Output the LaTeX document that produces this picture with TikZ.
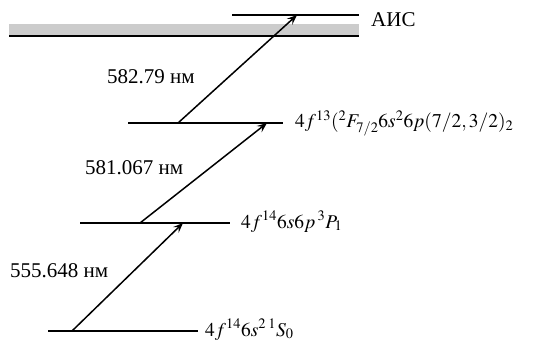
\documentclass[tikz,border=0pt]{standalone}
\usepackage{mathptmx}
\usepackage{fontspec}
\setmainfont{Liberation Serif}
\usepackage{tikz}
\usetikzlibrary{arrows.meta, positioning}
\definecolor{bandgray}{RGB}{204, 204, 204}

\begin{document}
\begin{tikzpicture}[
  x=1pt, y=-1pt,
  lev/.style={line width=2pt},
  trans/.style={line width=1.5pt, -{Stealth[length=10pt, width=8pt, inset=4pt]}},
  lbl/.style={inner sep=0pt, font=\fontsize{21}{24}\selectfont},
  term/.style={inner sep=0pt, font=\fontsize{19.5}{23}\selectfont}
]
  \useasboundingbox (0,0) rectangle (538,342);

  % Autoionizing band
  \fill[bandgray] (9,24) rectangle (359,36);
  \draw[lev] (9,36) -- (359,36);

  % Levels
  \coordinate (gL) at (48,331);  \coordinate (gR) at (198,331);
  \coordinate (pL) at (80,223);  \coordinate (pR) at (230,223);
  \coordinate (fL) at (128,123); \coordinate (fR) at (283,123);
  \coordinate (aL) at (232,15);  \coordinate (aR) at (359,15);
  \draw[lev] (gL) -- (gR);
  \draw[lev] (pL) -- (pR);
  \draw[lev] (fL) -- (fR);
  \draw[lev] (aL) -- (aR);

  % Level labels
  \node[term, anchor=base west] (gs) at (205,336) {$4f^{14}6s^{2}\,{}^{1}S_{0}$};
  \node[term, anchor=base west] (p1) at (241,228) {$4f^{14}6s6p\,{}^{3}P_{1}$};
  \node[term, anchor=base west] (f13) at (295,128) {$4f^{13}({}^{2}F_{7/2}6s^{2}6p(7/2,3/2)_{2}$};
  \node[lbl, anchor=base west] (ais) at (371,27) {АИС};

  % Transitions
  \coordinate (t1a) at (72,331);  \coordinate (t1b) at (183,223);
  \coordinate (t2a) at (140,223); \coordinate (t2b) at (267,123);
  \coordinate (t3a) at (178,123); \coordinate (t3b) at (297,15);
  \draw[trans] (t1a) -- (t1b);
  \draw[trans] (t2a) -- (t2b);
  \draw[trans] (t3a) -- (t3b);

  % Wavelengths
  \node[lbl, anchor=base west] (w1) at (10,277) {555.648 нм};
  \node[lbl, anchor=base west] (w2) at (85,174) {581.067 нм};
  \node[lbl, anchor=base west] (w3) at (107,84) {582.79 нм};
\end{tikzpicture}
\end{document}
